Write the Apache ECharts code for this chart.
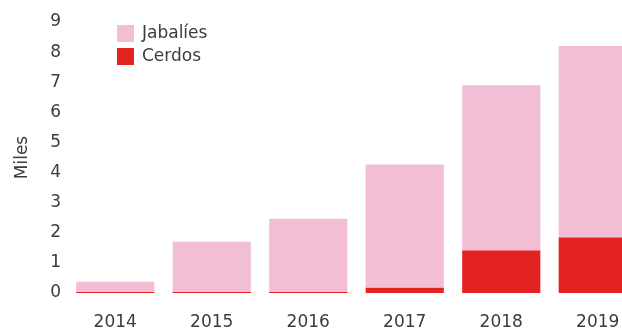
<!DOCTYPE html>
<html>
<head>
<meta charset="utf-8">
<script src="https://cdn.jsdelivr.net/npm/echarts@6/dist/echarts.min.js"></script>
<style>
  html, body { margin: 0; padding: 0; background: #fff; }
  #chart { width: 622px; height: 330px; }
</style>
</head>
<body>
<div id="chart"></div>
<script>
// Yearly counts, in thousands
const years = ['2014', '2015', '2016', '2017', '2018', '2019'];
const cerdos = [0.04, 0.04, 0.04, 0.18, 1.42, 1.85];
const jabalies = [0.33, 1.66, 2.43, 4.09, 5.48, 6.35];
const yTicks = [0, 1, 2, 3, 4, 5, 6, 7, 8, 9];

const FONT = 'DejaVu Sans';
const TEXT = '#3c3c3c';
const chart = echarts.init(document.getElementById('chart'), null, { renderer: 'canvas' });

chart.setOption({
  animation: false,
  textStyle: { fontFamily: FONT },
  grid: { left: 67, top: 22, bottom: 37, right: -24, containLabel: false, outerBoundsMode: 'none' },
  legend: {
    orient: 'vertical',
    left: 112,
    top: 20,
    itemWidth: 17,
    itemHeight: 17,
    itemGap: 6,
    icon: 'rect',
    data: ['Jabalíes', 'Cerdos'],
    textStyle: { fontFamily: FONT, fontSize: 17, color: TEXT, padding: [0, 0, 0, 3] }
  },
  xAxis: {
    type: 'category',
    data: years,
    axisLine: { show: false },
    axisTick: { show: false },
    axisLabel: { margin: 21, fontSize: 17, color: TEXT, fontFamily: FONT }
  },
  yAxis: {
    type: 'value',
    min: yTicks[0],
    max: yTicks[yTicks.length - 1],
    interval: 1,
    name: 'Miles',
    nameLocation: 'middle',
    nameRotate: 90,
    nameGap: 36,
    nameTextStyle: { fontSize: 17, color: TEXT, fontFamily: FONT },
    splitLine: { show: false },
    axisLine: { show: false },
    axisTick: { show: false },
    axisLabel: { margin: 6, fontSize: 17, color: TEXT, fontFamily: FONT }
  },
  series: [
    {
      name: 'Cerdos',
      type: 'bar',
      stack: 'total',
      data: cerdos,
      barCategoryGap: '19%',
      itemStyle: { color: '#e32322' }
    },
    {
      name: 'Jabalíes',
      type: 'bar',
      stack: 'total',
      data: jabalies,
      barCategoryGap: '19%',
      itemStyle: { color: '#f2bed6' }
    }
  ]
});
</script>
</body>
</html>
